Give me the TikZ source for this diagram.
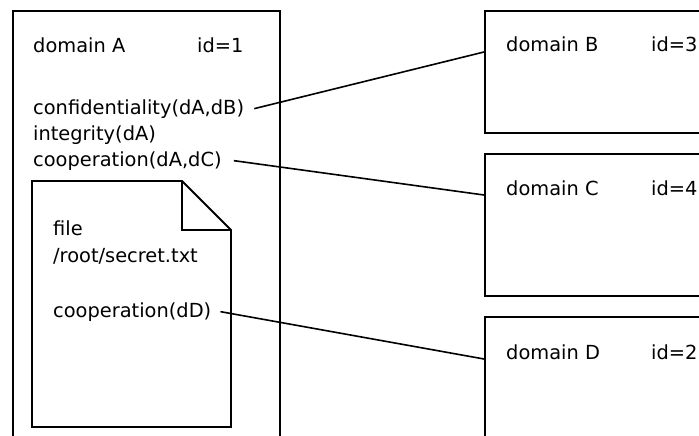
\documentclass[tikz,border=0pt]{standalone}
\usepackage{fontspec}
\setmainfont{DejaVu Sans}
\begin{document}
\begin{tikzpicture}[x=1pt,y=-1pt,
  box/.style={draw,line width=1.8pt,rectangle,inner sep=0pt,anchor=north west},
  txt/.style={anchor=base west,inner sep=0pt,font=\fontsize{19.4}{26}\selectfont},
  link/.style={line width=1.6pt}]
\useasboundingbox (0,0) rectangle (699,436);
\clip (0,0) rectangle (699,436);
\fill[white] (0,0) rectangle (699,436);
% domain boxes
\node[box,minimum width=267pt,minimum height=500pt] (Abox) at (12,10) {};
\node[box,minimum width=300pt,minimum height=122pt] (Bbox) at (484,10) {};
\node[box,minimum width=300pt,minimum height=142pt] (Cbox) at (484,153) {};
\node[box,minimum width=300pt,minimum height=200pt] (Dbox) at (484,316) {};
% file
\draw[line width=1.8pt,line join=miter] (32,181) -- (182,181) -- (231,230) -- (231,427) -- (32,427) -- cycle;
\draw[line width=1.8pt,line join=miter] (182,181) -- (182,230) -- (231,230);
% texts domain A
\node[txt] (Aname) at (33,53) {domain A};
\node[txt] (Aid) at (197,53) {id=1};
\node[txt] (conf) at (33,114) {confidentiality(dA,dB)};
\node[txt] (integ) at (33,140) {integrity(dA)};
\node[txt] (coopC) at (33,166) {cooperation(dA,dC)};
\node[txt] (fname) at (53,235) {file};
\node[txt] (fpath) at (53,262) {/root/secret.txt};
\node[txt] (coopD) at (53,317) {cooperation(dD)};
% other domains
\node[txt] (Bname) at (506,52) {domain B};
\node[txt] (Bid) at (651,52) {id=3};
\node[txt] (Cname) at (506,195) {domain C};
\node[txt] (Cid) at (651,195) {id=4};
\node[txt] (Dname) at (506,359) {domain D};
\node[txt] (Did) at (651,359) {id=2};
% connectors
\draw[link] ([xshift=10pt]conf.east) -- (Bbox.west |- Bname.base);
\draw[link] ([xshift=12pt]coopC.east) -- (Cbox.west |- Cname.base);
\draw[link] ([xshift=9pt]coopD.east) -- (Dbox.west |- Dname.base);
\end{tikzpicture}
\end{document}
